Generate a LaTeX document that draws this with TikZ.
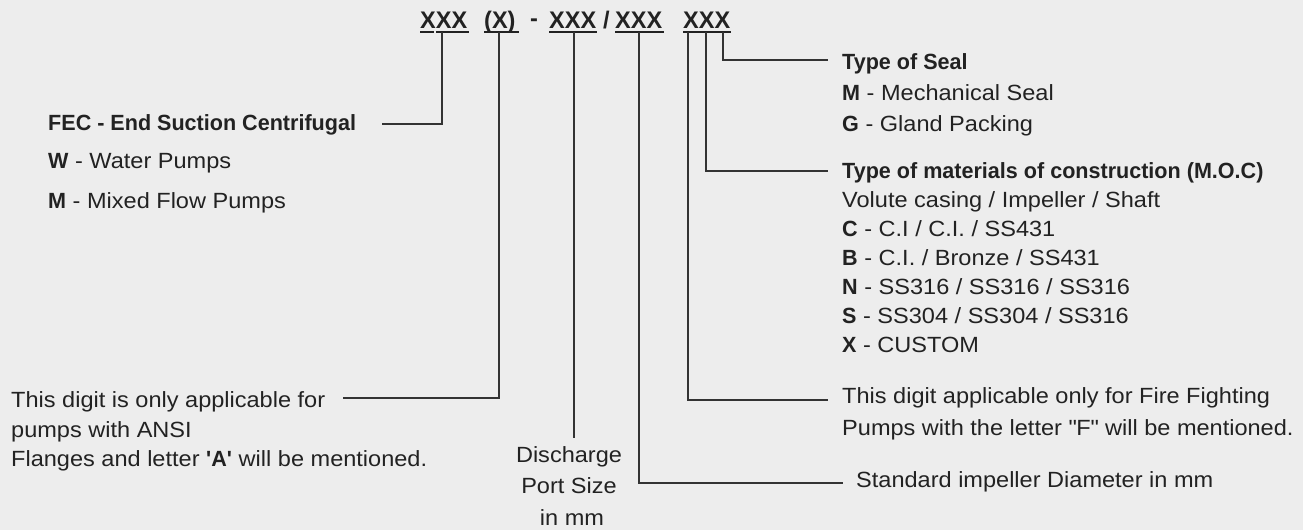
\documentclass[tikz,border=0pt]{standalone}
\usepackage{fontspec}
\setmainfont{Liberation Sans}[FakeStretch=1.07]
\newfontfamily\boldfam{Liberation Sans}[FakeStretch=0.98]
\newcommand{\mybf}[1]{{\boldfam\bfseries #1}}
\definecolor{bg}{RGB}{237,237,237}
\definecolor{ink}{RGB}{34,34,34}
\definecolor{wirec}{RGB}{51,51,51}
\begin{document}
\begin{tikzpicture}[x=1pt,y=-1pt,
  txt/.style={anchor=base west, inner sep=0pt, text=ink, font=\fontsize{22}{26}\selectfont},
  ctxt/.style={anchor=base, inner sep=0pt, text=ink, font=\fontsize{22}{26}\selectfont},
  code/.style={anchor=base west, inner sep=0pt, text=ink, font=\fontsize{24}{28}\selectfont\boldfam\bfseries},
  wire/.style={draw=wirec, line width=1.4pt},
  uline/.style={draw=ink, line width=2pt}]
\fill[bg] (0,0) rectangle (1303,530);
\useasboundingbox (0,0) rectangle (1303,530);

% code row
\node[code] (c1) at (420,28) {XXX};
\node[code] (c2) at (484,28) {(X)};
\node[code] (c3) at (530,27) {-};
\node[code] (c4) at (549,28) {XXX};
\node[code] (c5) at (603,28) {/};
\node[code] (c6) at (615,28) {XXX};
\node[code] (c7) at (683,28) {XXX};
\draw[uline] (420,31.5) -- (434,31.5);
\draw[uline] (436,31.5) -- (469,31.5);
\draw[uline] (484,31.5) -- (519,31.5);
\draw[uline] (549,31.5) -- (597,31.5);
\draw[uline] (615,31.5) -- (664,31.5);
\draw[uline] (683,31.5) -- (731,31.5);

% left group
\node[txt] (fec) at (48,130) {\mybf{FEC - End Suction Centrifugal}};
\node[txt] (w) at (48,168) {\mybf{W} - Water Pumps};
\node[txt] (m) at (48,208) {\mybf{M} - Mixed Flow Pumps};

% bottom left
\node[txt] (a1) at (11,407) {This digit is only applicable for};
\node[txt] (a2) at (11,437) {pumps with ANSI};
\node[txt] (a3) at (11,466) {Flanges and letter \mybf{\textquotesingle A\textquotesingle} will be mentioned.};

% discharge
\node[ctxt] (d1) at (569,462) {Discharge};
\node[ctxt] (d2) at (569,493) {Port Size};
\node[ctxt] (d3) at (572,525) {in mm};

% right group
\node[txt] (ts) at (842,69) {\mybf{Type of Seal}};
\node[txt] (ms) at (842,100) {\mybf{M} - Mechanical Seal};
\node[txt] (gs) at (842,131) {\mybf{G} - Gland Packing};
\node[txt] (moc) at (842,178) {\mybf{Type of materials of construction (M.O.C)}};
\node[txt] (vol) at (842,207) {Volute casing / Impeller / Shaft};
\node[txt] (mc) at (842,236) {\mybf{C} - C.I / C.I. / SS431};
\node[txt] (mb) at (842,265) {\mybf{B} - C.I. / Bronze / SS431};
\node[txt] (mn) at (842,294) {\mybf{N} - SS316 / SS316 / SS316};
\node[txt] (mss) at (842,323) {\mybf{S} - SS304 / SS304 / SS316};
\node[txt] (mx) at (842,352) {\mybf{X} - CUSTOM};
\node[txt] (f1) at (842,403) {This digit applicable only for Fire Fighting};
\node[txt] (f2) at (842,435) {Pumps with the letter \textquotedbl F\textquotedbl{} will be mentioned.};
\node[txt] (std) at (856,487) {Standard impeller Diameter in mm};

% connector points
\coordinate (p1) at (442,32);  \coordinate (q1) at (442,124); \coordinate (r1) at (382,124);
\coordinate (p2) at (499,32);  \coordinate (q2) at (499,398); \coordinate (r2) at (343,398);
\coordinate (p3) at (574,32);  \coordinate (q3) at (574,438);
\coordinate (p4) at (639,32);  \coordinate (q4) at (639,483); \coordinate (r4) at (843,483);
\coordinate (p5) at (688,32);  \coordinate (q5) at (688,400); \coordinate (r5) at (828,400);
\coordinate (p6) at (706,32);  \coordinate (q6) at (706,171); \coordinate (r6) at (828,171);
\coordinate (p7) at (723,32);  \coordinate (q7) at (723,60);  \coordinate (r7) at (828,60);

\draw[wire] (p1) -- (q1) -- (r1);
\draw[wire] (p2) -- (q2) -- (r2);
\draw[wire] (p3) -- (q3);
\draw[wire] (p4) -- (q4) -- (r4);
\draw[wire] (p5) -- (q5) -- (r5);
\draw[wire] (p6) -- (q6) -- (r6);
\draw[wire] (p7) -- (q7) -- (r7);
\end{tikzpicture}
\end{document}
